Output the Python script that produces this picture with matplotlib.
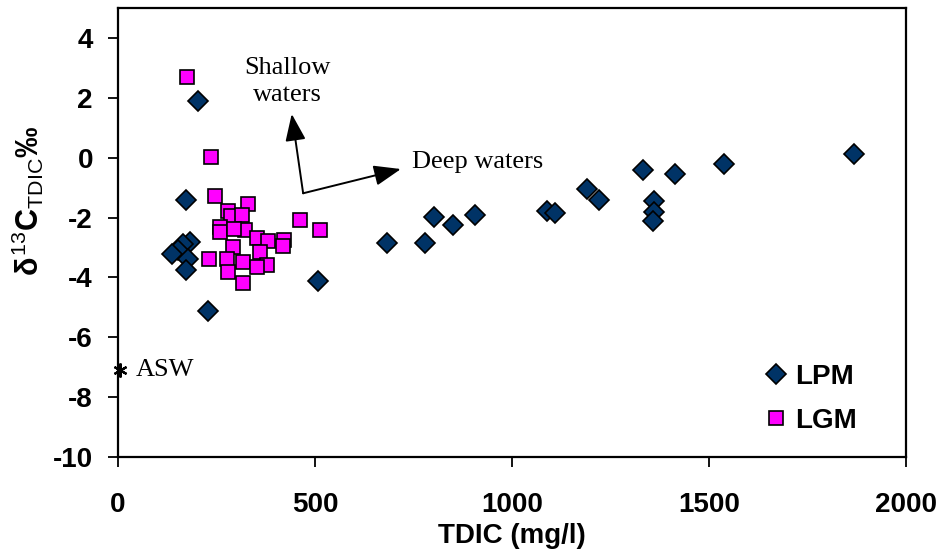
import matplotlib
matplotlib.use("Agg")
import matplotlib.pyplot as plt

# LPM (diamonds)
lpm_x = [202, 173, 183, 166, 153, 136, 179, 173, 228, 508,
         683, 780, 801, 850, 907, 1089, 1109, 1190, 1221, 1333,
         1413, 1361, 1361, 1358, 1539, 1868]
lpm_y = [1.9, -1.4, -2.83, -2.88, -3.08, -3.22, -3.39, -3.75, -5.11, -4.13,
         -2.84, -2.84, -1.97, -2.25, -1.92, -1.77, -1.86, -1.05, -1.41, -0.41,
         -0.55, -1.44, -1.83, -2.1, -0.21, 0.12]

# LGM (squares)
lgm_x = [174, 236, 246, 331, 280, 288, 316, 462, 513, 259,
         259, 322, 294, 352, 382, 421, 418, 360, 291, 232,
         276, 317, 377, 352, 280, 317]
lgm_y = [2.71, 0.01, -1.29, -1.55, -1.77, -1.94, -1.9, -2.08, -2.42, -2.33,
         -2.5, -2.42, -2.38, -2.68, -2.8, -2.74, -2.94, -3.16, -2.97, -3.39,
         -3.39, -3.5, -3.59, -3.66, -3.83, -4.19]

# ASW point
asw_x = [4]
asw_y = [-7.1]

plt.rcParams['font.family'] = ['Liberation Sans', 'DejaVu Sans']
plt.rcParams['axes.unicode_minus'] = False
plt.rcParams['mathtext.fontset'] = 'custom'
plt.rcParams['mathtext.rm'] = 'Liberation Sans'
plt.rcParams['mathtext.it'] = 'Liberation Sans:bold'
plt.rcParams['mathtext.bf'] = 'Liberation Sans:bold'

fig = plt.figure(figsize=(9.4, 5.55), dpi=100)
ax = fig.add_axes([0.1255, 0.1766, 0.8383, 0.809])

ax.plot(lpm_x, lpm_y, linestyle='none', marker='D', markersize=10.5,
        markerfacecolor='#003366', markeredgecolor='black', markeredgewidth=1.2,
        label='LPM', zorder=3)
ax.plot(lgm_x, lgm_y, linestyle='none', marker='s', markersize=10,
        markerfacecolor='#ff00ff', markeredgecolor='black', markeredgewidth=1.2,
        label='LGM', zorder=3)

ax.plot(asw_x, asw_y, linestyle='none', marker=(6, 2, 0), markersize=10,
        color='black', markeredgewidth=1.6, clip_on=False, zorder=4)
ax.text(46, -7.1, 'ASW', family='Liberation Serif', fontsize=19,
        va='center', ha='left')

# arrows from the common corner
corner = (470, -1.19)
ax.annotate('', xy=(441, 1.46), xytext=corner,
            arrowprops=dict(arrowstyle='-|>,head_length=0.5,head_width=0.19',
                            color='black', lw=1.4, mutation_scale=33,
                            shrinkA=0, shrinkB=0))
ax.annotate('', xy=(718, -0.38), xytext=corner,
            arrowprops=dict(arrowstyle='-|>,head_length=0.5,head_width=0.19',
                            color='black', lw=1.4, mutation_scale=33,
                            shrinkA=0, shrinkB=0))
ax.text(429, 2.55, 'Shallow\nwaters', family='Liberation Serif', fontsize=19,
        ha='center', va='center', linespacing=1.3)
ax.text(746, -0.15, 'Deep waters', family='Liberation Serif', fontsize=19,
        ha='left', va='center')

ax.set_xlim(0, 2000)
ax.set_ylim(-10, 5)
ax.set_xticks([0, 500, 1000, 1500, 2000])
ax.set_yticks(range(-10, 5, 2))
ax.tick_params(axis='both', labelsize=20, width=1.3, length=7.5, direction='out')
ax.tick_params(axis='x', pad=18)
ax.tick_params(axis='y', pad=10.5)
for lbl in ax.get_xticklabels() + ax.get_yticklabels():
    lbl.set_fontweight('bold')
for sp in ax.spines.values():
    sp.set_linewidth(1.6)

ax.set_xlabel('TDIC (mg/l)', fontsize=20, fontweight='bold')
ax.xaxis.set_label_coords(0.5, -0.147)
ax.set_ylabel(r'$\delta^{13}\mathbf{C}_{\mathrm{TDIC}}$‰', fontsize=22,
              fontweight='bold')
ax.yaxis.set_label_coords(-0.091, 0.57)

leg = ax.legend(loc='upper left', bbox_to_anchor=(0.817, 0.207), frameon=False,
                prop={'weight': 'bold', 'size': 20}, handletextpad=0.2,
                handlelength=1.0, labelspacing=0.65, borderaxespad=0,
                borderpad=0)

fig.savefig('out.png', dpi=100)
